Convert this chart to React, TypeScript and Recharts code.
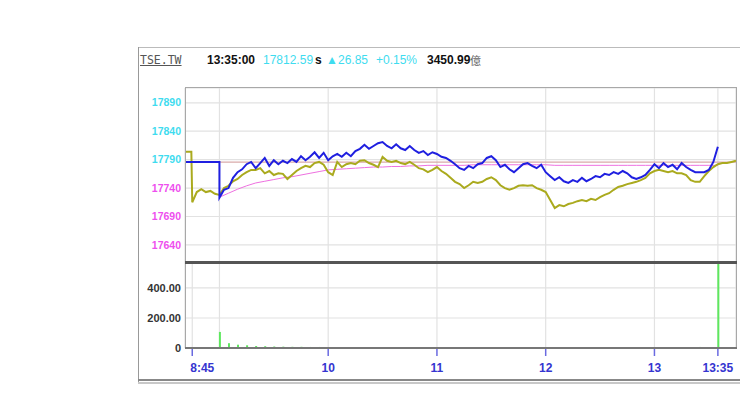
import React from "react"
import {
  ComposedChart,
  Line,
  Bar,
  XAxis,
  YAxis,
  CartesianGrid,
  ReferenceLine,
} from "recharts"

// x values are minutes since midnight
const steps = (from: number, to: number, step: number) => {
  const out: number[] = []
  for (let t = from; t <= to + 1e-6; t += step) out.push(t)
  return out
}

const prevClose = 17785.74

// TSE index (blue), 2.5 min points from 9:00
const indexTimes = [520, 540, ...steps(540, 815, 2.5)]
const indexValues = [
  17786, 17786,
  17723, 17737, 17740, 17758, 17768, 17773, 17782, 17786, 17775, 17784, 17793, 17779,
  17789, 17782, 17788, 17784, 17791, 17786, 17796, 17789, 17795, 17803, 17793, 17802,
  17789, 17796, 17800, 17795, 17802, 17796, 17805, 17809, 17816, 17809, 17814, 17819,
  17821, 17814, 17810, 17817, 17810, 17807, 17814, 17807, 17802, 17805, 17798, 17803,
  17800, 17795, 17793, 17788, 17782, 17775, 17772, 17779, 17775, 17782, 17784, 17793,
  17796, 17789, 17777, 17781, 17773, 17768, 17775, 17782, 17784, 17779, 17775, 17781,
  17768, 17761, 17754, 17759, 17752, 17749, 17754, 17751, 17758, 17752, 17756, 17761,
  17759, 17765, 17763, 17768, 17765, 17770, 17766, 17759, 17756, 17759, 17763, 17772,
  17782, 17775, 17784, 17777, 17781, 17773, 17784, 17777, 17772, 17768, 17768, 17768,
  17772, 17786, 17812.59,
]

// futures (olive), runs past the index close
const futuresTimes = [520, 524.5, ...steps(525, 825, 2.5)]
const futuresValues = [
  17804, 17804,
  17715, 17733, 17738, 17733, 17735, 17730,
  17728, 17740, 17744, 17752, 17756, 17763, 17768, 17772, 17772, 17775, 17766, 17770,
  17763, 17766, 17765, 17756, 17763, 17770, 17775, 17779, 17777, 17784, 17786, 17781,
  17768, 17763, 17786, 17777, 17782, 17784, 17782, 17788, 17789, 17784, 17781, 17777,
  17795, 17788, 17786, 17788, 17784, 17782, 17786, 17781, 17775, 17773, 17768, 17772,
  17777, 17770, 17765, 17758, 17751, 17747, 17740, 17745, 17751, 17749, 17751, 17756,
  17759, 17754, 17745, 17740, 17737, 17740, 17744, 17745, 17744, 17745, 17740, 17737,
  17733, 17719, 17705, 17710, 17708, 17712, 17714, 17717, 17719, 17717, 17721, 17719,
  17724, 17728, 17731, 17737, 17742, 17744, 17747, 17749, 17751, 17754, 17758, 17766,
  17770, 17772, 17770, 17768, 17770, 17766, 17766, 17763, 17754, 17751, 17751, 17761,
  17770, 17777, 17782, 17784, 17784, 17786, 17788,
]

// average line (pink), 5 min points
const avgTimes = steps(540, 815, 5)
const avgValues = [
  17724, 17731, 17738, 17744, 17749, 17752, 17755, 17758, 17760, 17763, 17766, 17769,
  17772, 17773, 17774, 17775, 17776, 17777, 17777, 17778, 17778, 17779, 17779, 17780,
  17780, 17780, 17780, 17780, 17781, 17781, 17781, 17781, 17781, 17781, 17781, 17781,
  17781, 17780, 17780, 17780, 17780, 17780, 17780, 17780, 17780, 17780, 17780, 17780,
  17780, 17780, 17780, 17780, 17780, 17780, 17780, 17780,
]

const volumeTimes = steps(540, 815, 5)
const volumeValues = [
  107, 32, 22, 18, 14, 12, 10, 9, 8, 8, 7, 7,
  6, 6, 5, 5, 5, 4, 4, 4, 5, 4, 4, 4,
  4, 3, 4, 4, 3, 4, 3, 3, 4, 3, 3, 4,
  3, 6, 5, 4, 4, 3, 3, 3, 3, 3, 3, 3,
  4, 4, 5, 5, 6, 7, 3, 620,
]

const priceTicks = [17640, 17690, 17740, 17790, 17840, 17890]
const volumeTicks = [0, 200, 400]
const timeTicks = [525, 540, 600, 660, 720, 780, 815]
const timeLabels: Record<number, string> = {
  525: "8:45",
  600: "10",
  660: "11",
  720: "12",
  780: "13",
  815: "13:35",
}

const indexData = indexTimes.map((t, i) => ({ t, v: indexValues[i] }))
const futuresData = futuresTimes.map((t, i) => ({ t, v: futuresValues[i] }))
const avgData = avgTimes.map((t, i) => ({ t, v: avgValues[i] }))
const volumeData = volumeTimes.map((t, i) => ({ t, v: volumeValues[i] }))

const FONT = "'Liberation Sans', Arial, sans-serif"
const X_DOMAIN = [521, 825]

const PriceTick = (props: any) => {
  const { x, y, payload } = props
  const color = payload.value > prevClose ? "#3fdcef" : "#ee4fee"
  return (
    <text x={x} y={y} dy="0.35em" textAnchor="end" fontSize={10.5} fontWeight="bold" fill={color} fontFamily={FONT}>
      {payload.value}
    </text>
  )
}

const VolumeTick = (props: any) => {
  const { x, y, payload } = props
  return (
    <text x={x} y={y} dy="0.35em" textAnchor="end" fontSize={11} fontWeight="bold" fill="#333" fontFamily={FONT}>
      {payload.value === 0 ? "0" : payload.value.toFixed(2)}
    </text>
  )
}

const TimeTick = (props: any) => {
  const { x, y, payload } = props
  const label = timeLabels[payload.value]
  if (!label) return null
  const first = payload.value === 525
  return (
    <g>
      <line x1={x} x2={x} y1={y} y2={y + 8} stroke="#6a6ae0" strokeWidth={1.5} />
      <text
        x={first ? x - 2 : x}
        y={y + 20}
        dy="0.35em"
        textAnchor={first ? "start" : "middle"}
        fontSize={12}
        fontWeight="bold"
        fill="#3535d0"
        fontFamily={FONT}
      >
        {label}
      </text>
    </g>
  )
}

const abs = (s: React.CSSProperties): React.CSSProperties => ({ position: "absolute", ...s })

export default function App() {
  const hdr = { position: "absolute" as const, top: 53, fontFamily: FONT, fontSize: 12, lineHeight: "14px", whiteSpace: "nowrap" as const }
  return (
    <div style={{ position: "absolute", left: 0, top: 0, width: 740, height: 416, background: "#fff", overflow: "hidden" }}>
      {/* frame */}
      <div style={abs({ left: 138, top: 47, width: 602, height: 1, background: "#bbb" })} />
      <div style={abs({ left: 138, top: 47, width: 1, height: 336, background: "#999" })} />
      <div style={abs({ left: 138, top: 379, width: 602, height: 2, background: "#888" })} />
      <div style={abs({ left: 138, top: 382, width: 602, height: 2, background: "#c8c8c8" })} />

      {/* header */}
      <span style={{ ...hdr, left: 140, fontFamily: "'DejaVu Sans Mono', monospace", fontSize: 11.5, color: "#555", textDecoration: "underline" }}>TSE.TW</span>
      <span style={{ ...hdr, left: 207, fontWeight: "bold", color: "#111" }}>13:35:00</span>
      <span style={{ ...hdr, left: 263, color: "#3fdcef" }}>17812.59</span>
      <span style={{ ...hdr, left: 315, fontWeight: "bold", color: "#111" }}>s</span>
      <span style={{ ...hdr, left: 326, color: "#3fdcef" }}>▲</span>
      <span style={{ ...hdr, left: 338, color: "#3fdcef" }}>26.85</span>
      <span style={{ ...hdr, left: 376, color: "#3fdcef" }}>+0.15%</span>
      <span style={{ ...hdr, left: 427, fontWeight: "bold", color: "#111" }}>3450.99</span>
      <span style={{ ...hdr, left: 470, fontFamily: "'Noto Sans CJK TC', sans-serif", fontSize: 11, color: "#666" }}>億</span>

      {/* price panel */}
      <div style={abs({ left: 0, top: 88, width: 740, height: 174 })}>
        <ComposedChart width={740} height={174} margin={{ top: 0, right: 4, bottom: 0, left: 135 }}>
          <CartesianGrid stroke="#e2e2e2" strokeWidth={1.2} />
          <XAxis dataKey="t" type="number" domain={X_DOMAIN} ticks={timeTicks} allowDataOverflow hide />
          <YAxis
            type="number"
            domain={[17610, 17916]}
            ticks={priceTicks}
            allowDataOverflow
            width={50}
            axisLine={false}
            tickLine={false}
            tickSize={0}
            tickMargin={4}
            tick={<PriceTick />}
          />
          <ReferenceLine y={prevClose} stroke="#d9aaaa" strokeWidth={1.2} />
          <Line data={avgData} dataKey="v" type="linear" stroke="#ee70e0" strokeWidth={1} dot={false} isAnimationActive={false} />
          <Line data={futuresData} dataKey="v" type="linear" stroke="#aaaa1e" strokeWidth={2} dot={false} isAnimationActive={false} />
          <Line data={indexData} dataKey="v" type="linear" stroke="#1f1fe0" strokeWidth={2} dot={false} isAnimationActive={false} />
        </ComposedChart>
      </div>

      {/* volume panel */}
      <div style={abs({ left: 0, top: 262, width: 740, height: 120 })}>
        <ComposedChart width={740} height={120} data={volumeData} margin={{ top: 0, right: 4, bottom: 0, left: 135 }}>
          <CartesianGrid stroke="#e2e2e2" strokeWidth={1.2} />
          <XAxis
            dataKey="t"
            type="number"
            domain={X_DOMAIN}
            ticks={timeTicks}
            allowDataOverflow
            height={34}
            axisLine={false}
            tickLine={false}
            tickSize={0}
            tickMargin={0}
            interval={0}
            tick={<TimeTick />}
          />
          <YAxis
            type="number"
            domain={[0, 573]}
            ticks={volumeTicks}
            allowDataOverflow
            width={50}
            axisLine={false}
            tickLine={false}
            tickSize={0}
            tickMargin={4}
            tick={<VolumeTick />}
          />
          <Bar dataKey="v" fill="#5ee85e" barSize={2} isAnimationActive={false} />
        </ComposedChart>
      </div>

      {/* plot borders */}
      <div style={abs({ left: 185, top: 87, width: 550, height: 260, border: "1px solid #a8a8a8", pointerEvents: "none" })} />
      <div style={abs({ left: 185, top: 261, width: 552, height: 3, background: "#555", pointerEvents: "none" })} />
      <div style={abs({ left: 185, top: 347, width: 552, height: 2, background: "#777", pointerEvents: "none" })} />
    </div>
  )
}
